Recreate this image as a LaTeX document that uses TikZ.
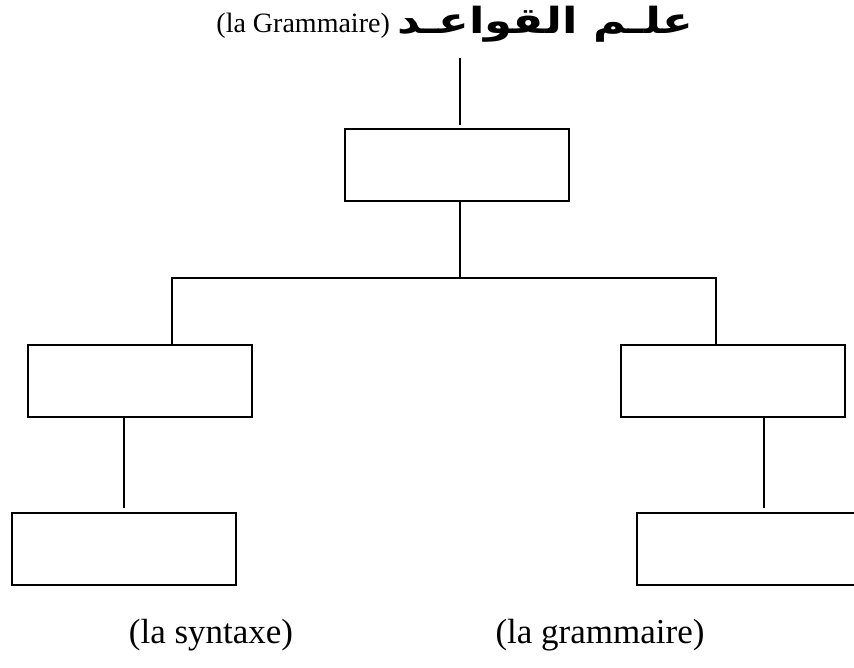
\documentclass[tikz,border=0pt]{standalone}
\usepackage{fontspec}
\setmainfont{Liberation Serif}
\newfontfamily\arabicfont[Script=Arabic, FakeStretch=1.25]{DejaVu Sans}
\TeXXeTstate=1
\begin{document}
\begin{tikzpicture}[x=1pt,y=-1pt,
  box/.style={draw, line width=1.6pt, minimum width=224pt, minimum height=72pt, inner sep=0pt},
  link/.style={line width=1.6pt},
  caption/.style={font=\fontsize{35}{42}\selectfont, inner sep=0pt, anchor=base},
  heading/.style={font=\fontsize{28}{34}\selectfont, inner sep=0pt}]
\clip (0,0) rectangle (854,668);

% title: French part on the left, Arabic part on the right
\node[heading, anchor=base east] (titlelat) at (390,33) {(la Grammaire)};
\node[heading, anchor=base west, font=\fontsize{36}{43}\selectfont] (titlear) at (397,34)
  {\arabicfont\bfseries\beginR علـم القواعـد\endR};

% boxes
\node[box, anchor=north west] (top) at (344,128) {};
\node[box, anchor=north west] (lm) at (27,344) {};
\node[box, anchor=north west] (lb) at (11,512) {};
\node[box, anchor=north west] (rm) at (620,344) {};
\node[box, anchor=north west, minimum width=240pt] (rb) at (636,512) {};

% junction points
\coordinate (t0) at (460,58);
\coordinate (stem) at (460,278);
\coordinate (hl) at (172,278);
\coordinate (hr) at (716,278);
\coordinate (lk) at (124,0);
\coordinate (rk) at (764,0);

% connectors
\draw[link, shorten >=3pt] (t0) -- (t0 |- top.north);
\draw[link] (top.south -| stem) -- (stem);
\draw[link] (hl |- lm.north) -- (hl) -- (hr) -- (hr |- rm.north);
\draw[link, shorten >=4pt] (lk |- lm.south) -- (lk |- lb.north);
\draw[link, shorten >=4pt] (rk |- rm.south) -- (rk |- rb.north);

% captions
\node[caption] (capl) at (211,643) {(la syntaxe)};
\node[caption] (capr) at (600,643) {(la grammaire)};
\end{tikzpicture}
\end{document}
